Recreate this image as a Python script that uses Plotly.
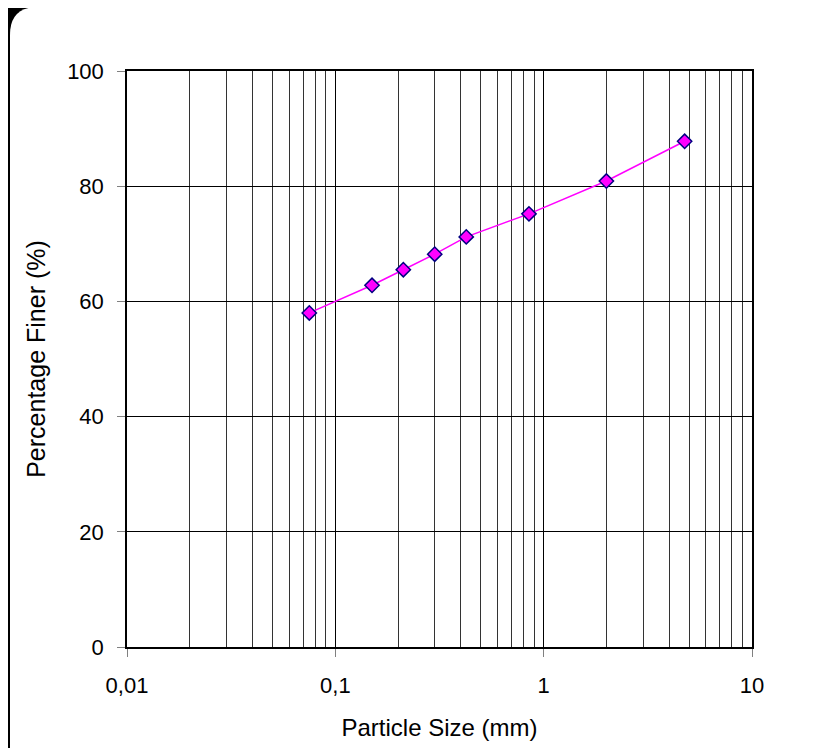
import plotly.graph_objects as go

particle_size_mm = [0.075, 0.15, 0.212, 0.3, 0.425, 0.85, 2.0, 4.75]
percent_finer = [58.0, 62.8, 65.5, 68.2, 71.2, 75.2, 80.9, 87.8]

x_tick_vals = [0.01, 0.1, 1, 10]
x_tick_text = ["0,01", "0,1", "1", "10"]
y_tick_vals = [0, 20, 40, 60, 80, 100]

minor_vals = [m * d for d in (0.01, 0.1, 1) for m in range(2, 10)]

# page body has an 8px margin; the figure is sized to fit the rest
W, H = 831, 740
L, T = 119, 63
pw, ph = 625, 576
R, B = W - L - pw, H - T - ph


def px(xp):
    return (xp - L) / pw


def py(yp):
    return (H - B - yp) / ph


x0, x1, y0, y1, r = 2, 860, -1, 770, 28
rx, ry = r / pw, r / ph
path = (
    f"M {px(x0)+rx},{py(y0)} L {px(x1)-rx},{py(y0)} "
    f"Q {px(x1)},{py(y0)} {px(x1)},{py(y0)-ry} "
    f"L {px(x1)},{py(y1)+ry} Q {px(x1)},{py(y1)} {px(x1)-rx},{py(y1)} "
    f"L {px(x0)+rx},{py(y1)} Q {px(x0)},{py(y1)} {px(x0)},{py(y1)+ry} "
    f"L {px(x0)},{py(y0)-ry} Q {px(x0)},{py(y0)} {px(x0)+rx},{py(y0)} Z"
)

fig = go.Figure()
fig.add_trace(go.Scatter(
    x=particle_size_mm,
    y=percent_finer,
    mode="lines+markers",
    line=dict(color="#FF00FF", width=1.5),
    marker=dict(symbol="diamond", size=11, color="#FF00FF",
                line=dict(color="#000080", width=1.5)),
    showlegend=False,
))

fig.update_layout(
    width=W, height=H,
    margin=dict(l=L, r=R, t=T, b=B),
    paper_bgcolor="black",
    plot_bgcolor="white",
    font=dict(family="Liberation Sans, Arial, sans-serif", color="black", size=22),
    shapes=[dict(type="path", path=path, xref="paper", yref="paper",
                 fillcolor="white", line=dict(width=0), layer="below")],
    xaxis=dict(
        type="log",
        range=[-2, 1],
        tickvals=x_tick_vals,
        ticktext=x_tick_text,
        showgrid=True, gridcolor="black", gridwidth=1,
        minor=dict(tickvals=minor_vals, showgrid=True, gridcolor="#333333",
                   gridwidth=1, ticks=""),
        showline=True, linecolor="black", linewidth=1.5, mirror=True,
        ticks="outside", ticklen=8, tickcolor="#808080",
        zeroline=False,
        title=dict(text="Particle Size (mm)", font=dict(size=24), standoff=22),
        tickfont=dict(size=22),
        ticklabelstandoff=10,
    ),
    yaxis=dict(
        range=[0, 100],
        tickvals=y_tick_vals,
        showgrid=True, gridcolor="black", gridwidth=1,
        showline=True, linecolor="black", linewidth=1.5, mirror=True,
        ticks="outside", ticklen=8, tickcolor="#808080",
        zeroline=False,
        title=dict(text="Percentage Finer (%)", font=dict(size=25), standoff=14),
        tickfont=dict(size=22),
        ticklabelstandoff=9,
    ),
)

fig.write_html("out.html")
